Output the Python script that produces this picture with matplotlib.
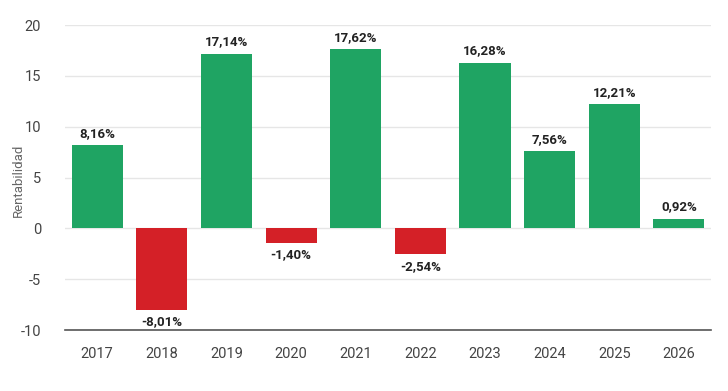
import matplotlib
matplotlib.use("Agg")
import matplotlib.pyplot as plt

plt.rcParams['font.family'] = ['Roboto', 'DejaVu Sans']
plt.rcParams['axes.unicode_minus'] = False

years = ["2017", "2018", "2019", "2020", "2021", "2022", "2023", "2024", "2025", "2026"]
returns = [8.16, -8.01, 17.14, -1.40, 17.62, -2.54, 16.28, 7.56, 12.21, 0.92]

GREEN = "#1fa463"
RED = "#d42027"

fig = plt.figure(figsize=(7.28, 3.91), dpi=100)
ax = fig.add_axes([0.089, 0.156, 0.888, 0.78])

colors = [GREEN if v >= 0 else RED for v in returns]
x = range(len(years))
bars = ax.bar(x, returns, width=0.79, color=colors, zorder=3)

for i, v in enumerate(returns):
    label = f"{v:.2f}".replace(".", ",") + "%"
    if v >= 0:
        ax.annotate(label, (i, v), xytext=(0, 4), textcoords="offset points",
                    ha="center", va="bottom", fontsize=9.5, fontweight="bold", color="#222222")
    else:
        ax.annotate(label, (i, v), xytext=(0, -4), textcoords="offset points",
                    ha="center", va="top", fontsize=9.5, fontweight="bold", color="#222222")

ax.set_ylim(-10, 20)
ax.set_yticks([-10, -5, 0, 5, 10, 15, 20])
ax.set_xlim(-0.5, len(years) - 0.5)
ax.set_xticks(list(x))
ax.set_xticklabels(years)

ax.grid(axis="y", color="#e6e6e6", linewidth=1, zorder=0)
for s in ["top", "right", "left"]:
    ax.spines[s].set_visible(False)
ax.spines["bottom"].set_color("#555555")
ax.spines["bottom"].set_linewidth(1.2)
ax.tick_params(axis="both", length=0, labelsize=10.5, labelcolor="#444444")
ax.tick_params(axis="x", pad=12)
ax.tick_params(axis="y", pad=17)

fig.text(0.025, 0.54, "Rentabilidad", rotation=90, color="#666666",
         fontsize=9.5, ha="center", va="center")

fig.savefig("out.png", dpi=100)
